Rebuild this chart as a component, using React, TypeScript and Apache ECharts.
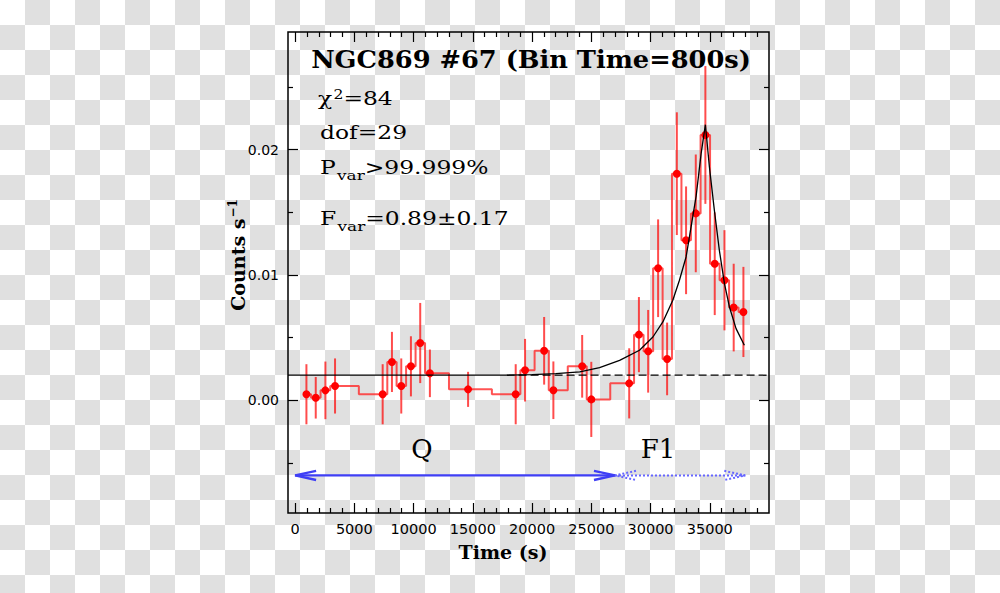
import React, { useEffect, useRef } from "react";
import * as echarts from "echarts";

// ---- axis ranges & ticks ----
const X_MIN = -600;
const X_MAX = 40000;
const Y_MIN = -0.009;
const Y_MAX = 0.0294;
const xMajorTicks = [0, 5000, 10000, 15000, 20000, 25000, 30000, 35000];
const xMinorTicks: number[] = [];
for (let k = 1000; k < X_MAX; k += 1000) if (k % 5000 !== 0) xMinorTicks.push(k);
const yMajorTicks = [0, 0.01, 0.02];
const yMinorTicks = [-0.005, 0.005, 0.015, 0.025];

// ---- light curve (800 s bins) ----
const times = [955, 1742, 2557, 3371, 7390, 8174, 8960, 9775, 10560, 11376, 14600, 18620, 19410, 21020, 21800, 24230, 25000, 28200, 29020, 29800, 30640, 31400, 32220, 33000, 33820, 34630, 35420, 36240, 37020, 37840];
const rates = [0.00048, 0.0002, 0.00079, 0.00114, 0.00048, 0.00306, 0.00114, 0.00271, 0.00457, 0.00215, 0.00087, 0.00048, 0.0024, 0.00395, 0.0008, 0.00271, 0.00007, 0.00135, 0.00524, 0.00391, 0.01054, 0.0033, 0.01809, 0.01277, 0.01492, 0.02118, 0.0109, 0.00958, 0.0074, 0.00705];
const errors = [0.0024, 0.00166, 0.0023, 0.0022, 0.0024, 0.0024, 0.0022, 0.0024, 0.0032, 0.0019, 0.0014, 0.0024, 0.0025, 0.0027, 0.0023, 0.0025, 0.003, 0.0028, 0.003, 0.0033, 0.0039, 0.0029, 0.0049, 0.0043, 0.0047, 0.0055, 0.0041, 0.004, 0.0035, 0.0036];

// ---- model (constant + flare) ----
const constLevel = 0.002;
const flareStart = 17850;
const modelT = [17850, 20000, 22000, 24030, 25700, 27390, 29070, 30200, 31040, 31880, 32440, 33000, 33280, 33850, 34270, 34630, 34970, 35390, 35810, 36240, 36660, 37220, 37920];
const modelV = [0.002, 0.00205, 0.00212, 0.00226, 0.00261, 0.00319, 0.00399, 0.00505, 0.00625, 0.00798, 0.00958, 0.01144, 0.01303, 0.0163, 0.01969, 0.022, 0.01862, 0.01516, 0.01197, 0.00931, 0.00745, 0.00572, 0.00439];

// ---- interval arrows ----
const arrowLevel = -0.006;
const qSpan = [0, 27000];
const f1Span = [27000, 38000];

const tickLine = { color: "#000", width: 1.2 };

function makeX(position: string, ticks: number[], len: number, labels: boolean) {
  return {
    type: "value",
    min: X_MIN,
    max: X_MAX,
    position,
    axisLine: { show: false, onZero: false },
    splitLine: { show: false },
    axisTick: { show: true, inside: true, length: len, customValues: ticks, lineStyle: tickLine },
    axisLabel: labels
      ? { show: true, customValues: ticks, margin: 8, fontFamily: "DejaVu Sans", fontSize: 14.5, color: "#000", formatter: (v: number) => String(v) }
      : { show: false },
  };
}
function makeY(position: string, ticks: number[], len: number, labels: boolean) {
  return {
    type: "value",
    min: Y_MIN,
    max: Y_MAX,
    position,
    axisLine: { show: false, onZero: false },
    splitLine: { show: false },
    axisTick: { show: true, inside: true, length: len, customValues: ticks, lineStyle: tickLine },
    axisLabel: labels
      ? { show: true, customValues: ticks, margin: 9, fontFamily: "DejaVu Sans", fontSize: 14, color: "#000", formatter: (v: number) => v.toFixed(2) }
      : { show: false },
  };
}

const serifM = { fontFamily: "DejaVu Serif", fontSize: 18, fill: "#000" };
const serifSub = { fontFamily: "DejaVu Serif", fontSize: 13, fill: "#000", padding: [16, 0, 0, 1] };
const serifSup = { fontFamily: "DejaVu Serif", fontSize: 12, fill: "#000", padding: [0, 0, 9, 1] };

function anno(x: number, y: number, text: string) {
  return {
    type: "text",
    x,
    y,
    scaleX: 1.3,
    style: {
      text,
      rich: { m: serifM, sub: serifSub, sup: serifSup },
      textAlign: "left",
      textVerticalAlign: "middle",
      verticalAlign: "middle",
      fill: "#000",
    },
  };
}

export default function App() {
  const ref = useRef<HTMLDivElement>(null);
  useEffect(() => {
    if (!ref.current) return;
    const chart = echarts.init(ref.current, undefined, { renderer: "svg" });
    const points = times.map((t, i) => [t, rates[i]]);
    const bars = times.map((t, i) => [t, rates[i] - errors[i], rates[i] + errors[i]]);
    const arrows = [
      [qSpan[0], qSpan[1], arrowLevel, 0],
      [f1Span[0], f1Span[1], arrowLevel, 1],
    ];
    const option: any = {
      animation: false,
      backgroundColor: "transparent",
      grid: {
        left: 288,
        top: 32,
        width: 481,
        height: 481,
        show: true,
        borderColor: "#000",
        borderWidth: 1.5,
        backgroundColor: "transparent",
        outerBoundsMode: "none",
      },
      xAxis: [
        makeX("bottom", xMajorTicks, 10, true),
        makeX("bottom", xMinorTicks, 5, false),
        makeX("top", xMajorTicks, 10, false),
        makeX("top", xMinorTicks, 5, false),
      ],
      yAxis: [
        makeY("left", yMajorTicks, 10, true),
        makeY("left", yMinorTicks, 5, false),
        makeY("right", yMajorTicks, 10, false),
        makeY("right", yMinorTicks, 5, false),
      ],
      series: [
        {
          type: "custom",
          name: "errors",
          xAxisIndex: 0,
          yAxisIndex: 0,
          z: 2,
          data: bars,
          encode: { x: 0, y: [1, 2] },
          renderItem: (_p: any, api: any) => {
            const a = api.coord([api.value(0), api.value(1)]);
            const b = api.coord([api.value(0), api.value(2)]);
            return {
              type: "line",
              shape: { x1: a[0], y1: a[1], x2: b[0], y2: b[1] },
              style: { stroke: "rgba(255,0,0,0.7)", lineWidth: 2 },
            };
          },
        },
        {
          type: "line",
          name: "rate",
          step: "middle",
          z: 3,
          data: points,
          symbol: "circle",
          symbolSize: 8,
          itemStyle: { color: "#ff0000" },
          lineStyle: { color: "rgba(255,40,40,0.8)", width: 2 },
        },
        {
          type: "line",
          name: "const-solid",
          z: 5,
          data: [[X_MIN, constLevel], [flareStart, constLevel]],
          symbol: "none",
          lineStyle: { color: "#000", width: 1.3 },
        },
        {
          type: "line",
          name: "const-dashed",
          z: 5,
          data: [[flareStart, constLevel], [X_MAX, constLevel]],
          symbol: "none",
          lineStyle: { color: "#000", width: 1.3, type: [8, 4] },
        },
        {
          type: "line",
          name: "model",
          z: 6,
          data: modelT.map((t, i) => [t, modelV[i]]),
          symbol: "none",
          lineStyle: { color: "#000", width: 1.3 },
        },
        {
          type: "custom",
          name: "arrows",
          z: 4,
          data: arrows,
          encode: { x: [0, 1], y: 2 },
          renderItem: (_p: any, api: any) => {
            const p0 = api.coord([api.value(0), api.value(2)]);
            const p1 = api.coord([api.value(1), api.value(2)]);
            const dotted = api.value(3) === 1;
            const style: any = {
              stroke: dotted ? "#6666ff" : "#3f3ff5",
              lineWidth: dotted ? 2 : 2.4,
              fill: "none",
              lineDash: dotted ? [2, 2] : null,
            };
            const L = 21, H = 4.6;
            return {
              type: "group",
              children: [
                { type: "line", shape: { x1: p0[0], y1: p0[1], x2: p1[0], y2: p1[1] }, style },
                { type: "polyline", shape: { points: [[p0[0] + L, p0[1] - H], [p0[0], p0[1]], [p0[0] + L, p0[1] + H]] }, style },
                { type: "polyline", shape: { points: [[p1[0] - L, p1[1] - H], [p1[0], p1[1]], [p1[0] - L, p1[1] + H]] }, style },
              ],
            };
          },
        },
      ],
      graphic: [
        {
          type: "text",
          x: 531,
          y: 60,
          scaleX: 1.07,
          style: {
            text: "NGC869 #67 (Bin Time=800s)",
            font: 'bold 24px "DejaVu Serif"',
            textAlign: "center",
            textVerticalAlign: "middle",
            verticalAlign: "middle",
            fill: "#000",
          },
        },
        anno(318, 99, "{m|χ}{sup|2}{m|=84}"),
        anno(320, 133, "{m|dof=29}"),
        anno(320, 168, "{m|P}{sub|var}{m|>99.999%}"),
        anno(320, 219, "{m|F}{sub|var}{m|=0.89±0.17}"),
        {
          type: "text",
          x: 422,
          y: 449,
          style: { text: "Q", font: '26px "DejaVu Serif"', textAlign: "center", textVerticalAlign: "middle", verticalAlign: "middle", fill: "#000" },
        },
        {
          type: "text",
          x: 658,
          y: 449,
          style: { text: "F1", font: '26px "DejaVu Serif"', textAlign: "center", textVerticalAlign: "middle", verticalAlign: "middle", fill: "#000" },
        },
        {
          type: "text",
          x: 503,
          y: 552,
          style: { text: "Time (s)", font: 'bold 19px "DejaVu Serif"', textAlign: "center", textVerticalAlign: "middle", verticalAlign: "middle", fill: "#000" },
        },
        {
          type: "text",
          x: 238,
          y: 255,
          rotation: Math.PI / 2,
          style: {
            text: "{m|Counts s}{sup|−1}",
            rich: {
              m: { fontFamily: "DejaVu Serif", fontWeight: "bold", fontSize: 19, fill: "#000" },
              sup: { fontFamily: "DejaVu Serif", fontWeight: "bold", fontSize: 12, fill: "#000", padding: [0, 0, 10, 1] },
            },
            textAlign: "center",
            textVerticalAlign: "middle",
            verticalAlign: "middle",
            fill: "#000",
          },
        },
      ],
    };
    chart.setOption(option);
    return () => chart.dispose();
  }, []);
  return (
    <div
      style={{
        position: "absolute",
        left: 0,
        top: 0,
        width: 1000,
        height: 593,
        background: "repeating-conic-gradient(#e0e0e0 0% 25%, #ffffff 0% 50%) 0 0 / 50px 50px",
      }}
    >
      <div ref={ref} style={{ width: 1000, height: 593 }} />
    </div>
  );
}
